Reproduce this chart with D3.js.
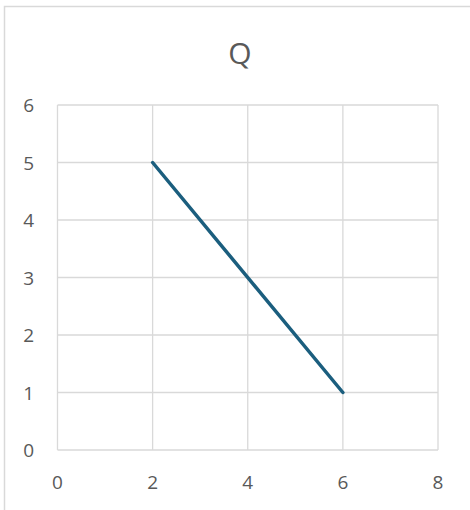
<!DOCTYPE html>
<html>
<head>
<meta charset="utf-8">
<script src="https://cdn.jsdelivr.net/npm/d3@7"></script>
<style>
  body { margin: 0; background: #fff; }
  text { font-family: "Open Sans", sans-serif; fill: #595959; }
</style>
</head>
<body>
<div id="chart"></div>
<script>
// data
const xValues = [2, 6];
const yValues = [5, 1];
const xTicks = [0, 2, 4, 6, 8];
const yTicks = [0, 1, 2, 3, 4, 5, 6];
const title = "Q";

const W = 470, H = 510;
const svg = d3.select("#chart").append("svg")
  .attr("width", W)
  .attr("height", H);

// chart border (runs off the right/bottom edge)
svg.append("rect")
  .attr("x", 4.5).attr("y", 6.5)
  .attr("width", 480).attr("height", 520)
  .attr("fill", "none")
  .attr("stroke", "#d9d9d9")
  .attr("stroke-width", 1.5);

const x = d3.scaleLinear().domain([0, 8]).range([57.5, 438]);
const y = d3.scaleLinear().domain([0, 6]).range([450, 105]);

// gridlines
svg.append("g").selectAll("line").data(xTicks).join("line")
  .attr("x1", d => x(d)).attr("x2", d => x(d))
  .attr("y1", y(0)).attr("y2", y(6))
  .attr("stroke", "#d9d9d9").attr("stroke-width", 1.3);

svg.append("g").selectAll("line").data(yTicks).join("line")
  .attr("x1", x(0)).attr("x2", x(8))
  .attr("y1", d => y(d)).attr("y2", d => y(d))
  .attr("stroke", "#d9d9d9").attr("stroke-width", 1.3);

// tick labels
svg.append("g").selectAll("text").data(xTicks).join("text")
  .attr("x", d => x(d)).attr("y", 482)
  .attr("text-anchor", "middle")
  .attr("dominant-baseline", "central")
  .style("font-size", "19px")
  .text(d => d);

svg.append("g").selectAll("text").data(yTicks).join("text")
  .attr("x", 34).attr("y", d => y(d))
  .attr("text-anchor", "end")
  .attr("dominant-baseline", "central")
  .style("font-size", "19px")
  .text(d => d);

// title
svg.append("text")
  .attr("x", 240).attr("y", 52)
  .attr("text-anchor", "middle")
  .attr("dominant-baseline", "central")
  .style("font-size", "30px")
  .text(title);

// series line
const pts = xValues.map((v, i) => [v, yValues[i]]);
svg.append("path")
  .datum(pts)
  .attr("d", d3.line().x(d => x(d[0])).y(d => y(d[1])))
  .attr("fill", "none")
  .attr("stroke", "#1b5e7e")
  .attr("stroke-width", 3.5)
  .attr("stroke-linecap", "round");
</script>
</body>
</html>
